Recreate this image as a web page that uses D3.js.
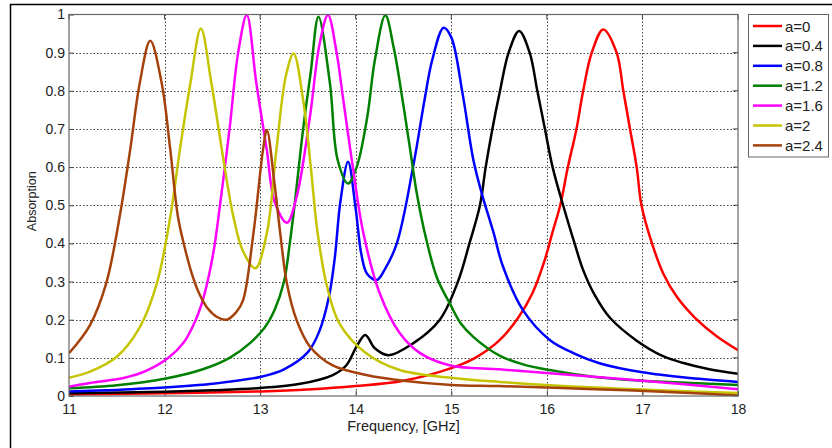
<!DOCTYPE html>
<html>
<head>
<meta charset="utf-8">
<script src="https://cdn.jsdelivr.net/npm/d3@7"></script>
<style>
  body { margin: 0; background: #fff; }
  svg { display: block; font-family: "Liberation Sans", Arial, sans-serif; }
  .tick text { fill: #222; font-size: 14px; }
</style>
</head>
<body>
<svg id="chart" width="832" height="448"></svg>
<script>
// series data, [frequency GHz, absorption]
var a0 = [[11,0.004],[12,0.007],[13,0.012],[13.5,0.017],[14,0.026],[14.5,0.04],[15,0.073],[15.25,0.1],[15.5,0.145],[15.7,0.205],[15.85,0.27],[15.97,0.35],[16.06,0.43],[16.14,0.5],[16.22,0.6],[16.31,0.7],[16.38,0.8],[16.47,0.9],[16.59,0.961],[16.73,0.9],[16.8,0.8],[16.87,0.7],[16.94,0.6],[16.99,0.5],[17.1,0.4],[17.22,0.32],[17.36,0.26],[17.55,0.205],[17.77,0.158],[18,0.12]];
var a04 = [[11,0.007],[12,0.011],[12.5,0.015],[13,0.021],[13.42,0.032],[13.76,0.055],[13.9,0.08],[14.01,0.13],[14.1,0.16],[14.2,0.125],[14.34,0.107],[14.6,0.138],[14.88,0.2],[15.07,0.3],[15.19,0.4],[15.3,0.5],[15.36,0.6],[15.43,0.7],[15.51,0.8],[15.6,0.9],[15.71,0.957],[15.82,0.9],[15.9,0.8],[15.98,0.7],[16.06,0.6],[16.17,0.5],[16.29,0.4],[16.38,0.33],[16.5,0.265],[16.66,0.205],[16.94,0.145],[17.21,0.105],[17.42,0.087],[17.7,0.07],[18,0.058]];
var a08 = [[11,0.012],[11.5,0.016],[12,0.022],[12.5,0.032],[13,0.05],[13.25,0.07],[13.5,0.115],[13.62,0.17],[13.72,0.26],[13.78,0.36],[13.84,0.51],[13.92,0.614],[14,0.49],[14.06,0.37],[14.12,0.32],[14.22,0.304],[14.3,0.33],[14.43,0.4],[14.6,0.6],[14.72,0.776],[14.8,0.88],[14.92,0.965],[15,0.94],[15.12,0.79],[15.23,0.62],[15.32,0.53],[15.44,0.43],[15.54,0.34],[15.75,0.225],[16.03,0.147],[16.3,0.11],[16.55,0.086],[17,0.062],[17.5,0.047],[18,0.037]];
var a12 = [[11,0.02],[11.5,0.028],[12,0.045],[12.4,0.07],[12.68,0.1],[12.9,0.14],[13.05,0.18],[13.15,0.225],[13.25,0.3],[13.31,0.4],[13.36,0.5],[13.45,0.7],[13.53,0.85],[13.61,0.994],[13.73,0.82],[13.81,0.62],[13.92,0.557],[14.01,0.6],[14.12,0.73],[14.2,0.88],[14.31,0.998],[14.4,0.91],[14.49,0.776],[14.57,0.645],[14.64,0.53],[14.72,0.43],[14.85,0.31],[14.99,0.24],[15.1,0.19],[15.23,0.155],[15.51,0.105],[15.75,0.083],[16.03,0.068],[16.5,0.05],[17,0.04],[17.5,0.034],[18,0.029]];
var a16 = [[11,0.024],[11.22,0.034],[11.57,0.047],[11.8,0.065],[12.04,0.1],[12.2,0.14],[12.3,0.185],[12.38,0.235],[12.45,0.3],[12.52,0.39],[12.58,0.5],[12.68,0.7],[12.77,0.9],[12.86,0.999],[12.96,0.82],[13.07,0.645],[13.15,0.51],[13.28,0.454],[13.38,0.52],[13.52,0.73],[13.62,0.92],[13.71,0.999],[13.8,0.9],[13.87,0.776],[13.97,0.6],[14.08,0.427],[14.25,0.27],[14.46,0.165],[14.67,0.113],[14.99,0.08],[15.5,0.07],[16,0.06],[17,0.04],[18,0.018]];
var a20 = [[11,0.048],[11.22,0.064],[11.5,0.103],[11.74,0.18],[11.92,0.296],[12.06,0.47],[12.16,0.645],[12.27,0.82],[12.38,0.963],[12.49,0.82],[12.6,0.645],[12.72,0.47],[12.82,0.38],[12.95,0.335],[13.07,0.427],[13.17,0.645],[13.27,0.84],[13.35,0.898],[13.45,0.776],[13.53,0.6],[13.6,0.43],[13.7,0.287],[13.83,0.19],[14.11,0.112],[14.46,0.068],[14.99,0.048],[15.51,0.037],[16.5,0.022],[17.5,0.012],[18,0.008]];
var a24 = [[11,0.112],[11.22,0.186],[11.39,0.296],[11.53,0.47],[11.64,0.645],[11.74,0.82],[11.85,0.931],[11.97,0.82],[12.06,0.645],[12.14,0.47],[12.21,0.39],[12.28,0.325],[12.36,0.27],[12.45,0.23],[12.55,0.207],[12.65,0.2],[12.75,0.22],[12.82,0.25],[12.93,0.427],[13.03,0.645],[13.07,0.697],[13.15,0.557],[13.21,0.427],[13.28,0.295],[13.38,0.2],[13.52,0.13],[13.76,0.08],[14.11,0.055],[14.5,0.04],[15,0.029],[15.5,0.026],[16.5,0.018],[17.5,0.008],[18,0.001]];

var labels = ["a=0", "a=0.4", "a=0.8", "a=1.2", "a=1.6", "a=2", "a=2.4"];
var colors = ["#ff0000", "#000000", "#0000ff", "#008000", "#ff00ff", "#c4c400", "#a5420c"];
var xTicks = [11, 12, 13, 14, 15, 16, 17, 18];
var yTicks = [0, 0.1, 0.2, 0.3, 0.4, 0.5, 0.6, 0.7, 0.8, 0.9, 1];

var series = [a0, a04, a08, a12, a16, a20, a24];

var svg = d3.select("#chart");
var pLeft = 69, pRight = 738, pTop = 14.5, pBottom = 396;

// figure frame (top and left edges visible)
svg.append("path")
    .attr("d", "M10.5,448V4.5H832")
    .attr("fill", "none")
    .attr("stroke", "#000")
    .attr("stroke-width", 1.5);

var x = d3.scaleLinear().domain([11, 18]).range([pLeft, pRight]);
var y = d3.scaleLinear().domain([0, 1]).range([pBottom, pTop]);

// grid
var grid = svg.append("g").attr("class", "grid")
    .attr("stroke", "#444").attr("stroke-width", 1).attr("stroke-dasharray", "1.5,2");
grid.selectAll("line.gx").data(xTicks.slice(1, -1)).enter().append("line")
    .attr("x1", function(d) { return Math.round(x(d)) + 0.5; })
    .attr("x2", function(d) { return Math.round(x(d)) + 0.5; })
    .attr("y1", pTop).attr("y2", pBottom);
grid.selectAll("line.gy").data(yTicks.slice(1, -1)).enter().append("line")
    .attr("y1", function(d) { return Math.round(y(d)) + 0.5; })
    .attr("y2", function(d) { return Math.round(y(d)) + 0.5; })
    .attr("x1", pLeft).attr("x2", pRight);

// axes (ticks pointing inward)
svg.append("g")
    .attr("transform", "translate(0," + pBottom + ")")
    .call(d3.axisBottom(x).tickValues(xTicks).tickSizeInner(-5).tickSizeOuter(0).tickPadding(8)
        .tickFormat(d3.format("d")));
svg.append("g")
    .attr("transform", "translate(" + pLeft + ",0)")
    .call(d3.axisLeft(y).tickValues(yTicks).tickSizeInner(-5).tickSizeOuter(0).tickPadding(4)
        .tickFormat(function(d) { return d === 0 || d === 1 ? d : d3.format(".1f")(d); }));
svg.selectAll(".domain").remove();
svg.selectAll(".tick line").attr("stroke", "#444");

// top and right tick marks
svg.append("g").selectAll("line").data(xTicks).enter().append("line")
    .attr("x1", function(d) { return x(d); }).attr("x2", function(d) { return x(d); })
    .attr("y1", pTop).attr("y2", pTop + 5).attr("stroke", "#444");
svg.append("g").selectAll("line").data(yTicks).enter().append("line")
    .attr("y1", function(d) { return y(d); }).attr("y2", function(d) { return y(d); })
    .attr("x1", pRight).attr("x2", pRight - 5).attr("stroke", "#444");

// curves
svg.append("clipPath").attr("id", "plotclip").append("rect")
    .attr("x", pLeft).attr("y", pTop - 2).attr("width", pRight - pLeft).attr("height", pBottom - pTop + 2);

var line = d3.line()
    .x(function(d) { return x(d[0]); })
    .y(function(d) { return y(d[1]); })
    .curve(d3.curveCatmullRom.alpha(0.5));

svg.append("g").attr("clip-path", "url(#plotclip)")
    .selectAll("path").data(series).enter().append("path")
    .attr("d", line)
    .attr("fill", "none")
    .attr("stroke", function(d, i) { return colors[i]; })
    .attr("stroke-width", 2.5)
    .attr("stroke-linejoin", "round");

// axes box
svg.append("rect")
    .attr("x", pLeft).attr("y", pTop).attr("width", pRight - pLeft).attr("height", pBottom - pTop)
    .attr("fill", "none").attr("stroke", "#666").attr("stroke-width", 1.2);

// axis titles
svg.append("text")
    .attr("x", (pLeft + pRight) / 2).attr("y", 431)
    .attr("text-anchor", "middle").attr("font-size", 14.5).attr("fill", "#222")
    .text("Frequency, [GHz]");
svg.append("text")
    .attr("transform", "translate(36," + ((pTop + pBottom) / 2 - 4) + ") rotate(-90)")
    .attr("text-anchor", "middle").attr("font-size", 12.5).attr("fill", "#222")
    .text("Absorption");

// legend
var legend = svg.append("g");
legend.append("rect")
    .attr("x", 748.5).attr("y", 14.5).attr("width", 80).attr("height", 142.5)
    .attr("fill", "#fff").attr("stroke", "#666").attr("stroke-width", 1);
var rows = legend.selectAll("g.row").data(labels).enter().append("g")
    .attr("transform", function(d, i) { return "translate(0," + (26 + i * 19.9) + ")"; });
rows.append("line")
    .attr("x1", 753).attr("x2", 782)
    .attr("stroke", function(d, i) { return colors[i]; })
    .attr("stroke-width", 2.5);
rows.append("text")
    .attr("x", 785).attr("y", 5.5)
    .attr("font-size", 15).attr("fill", "#222")
    .text(function(d) { return d; });
</script>
</body>
</html>
